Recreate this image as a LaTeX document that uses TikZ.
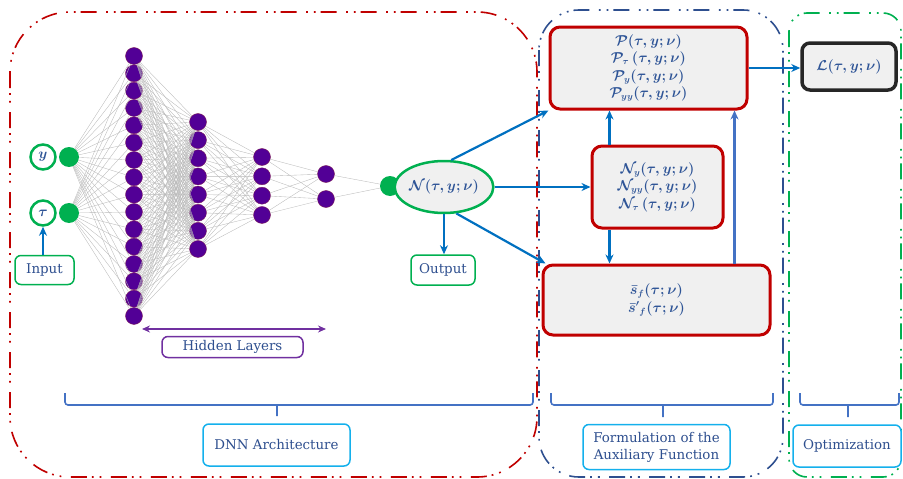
\documentclass[tikz,border=0pt]{standalone}
\usepackage{fontspec}
\setmainfont{DejaVu Serif}
\usepackage{bm}
\usetikzlibrary{arrows.meta,shapes.geometric}

\definecolor{nred}{HTML}{C00000}
\definecolor{ngreen}{HTML}{00B050}
\definecolor{npurple}{HTML}{520096}
\definecolor{nrim}{HTML}{7A1A5A}
\definecolor{tblue}{HTML}{2F5597}
\definecolor{ablue}{HTML}{0070C0}
\definecolor{bblue}{HTML}{4472C4}
\definecolor{dblue}{HTML}{2E4F8F}
\definecolor{lilac}{HTML}{7030A0}
\definecolor{cyanb}{HTML}{14B0EC}
\definecolor{lgray}{HTML}{F0F0F0}
\definecolor{lborder}{HTML}{262626}

\begin{document}
\begin{tikzpicture}[x=1pt,y=-1pt,
	neuron/.style={circle,fill=npurple,draw=nrim,line width=0.4pt,minimum size=17pt,inner sep=0pt},
	gdot/.style={circle,fill=ngreen,minimum size=20pt,inner sep=0pt},
	invar/.style={circle,draw=ngreen,line width=2.5pt,fill=white,minimum size=25pt,inner sep=0pt,text=tblue,
		font=\fontsize{14}{16}\selectfont\boldmath},
	wire/.style={gray!55,line width=0.35pt},
	flow/.style={ablue,line width=2.2pt,-{Stealth[length=9pt,width=8pt]}},
	fbox/.style={draw=nred,line width=3pt,rounded corners=10pt,fill=lgray,align=center,text=tblue,
		font=\fontsize{13.5}{17.5}\selectfont\boldmath},
	tag/.style={draw,line width=1.5pt,rounded corners=6pt,fill=white,align=center,text=dblue,inner sep=0pt,
		font=\fontsize{13.4}{17}\selectfont},
	bound/.style={line width=1.6pt,dash pattern=on 16pt off 5pt on 1.8pt off 6pt on 1.8pt off 9.4pt},
	brace/.style={bblue,line width=1.6pt,rounded corners=3pt},
]
\useasboundingbox (0,0) rectangle (903,479);

% dash-dot frames
\draw[bound,nred,rounded corners=60pt] (10,12) rectangle (537,477);
\draw[bound,dblue,rounded corners=40pt] (539,10) rectangle (783,477);
\draw[bound,ngreen,rounded corners=18pt] (789,13) rectangle (901,477);

% inputs
\node[invar] (iy) at (43,157) {$y$};
\node[invar] (itau) at (43,213) {$\tau$};
\node[gdot] (dy) at (69,157) {};
\node[gdot] (dtau) at (69,213) {};

% hidden layers
\foreach \i in {1,...,16}
	\node[neuron] (a\i) at (134,{56+17.33*(\i-1)}) {};
\foreach \i in {1,...,8}
	\node[neuron] (b\i) at (198,{122+18.14*(\i-1)}) {};
\foreach \i in {1,...,4}
	\node[neuron] (c\i) at (262,{157+19.33*(\i-1)}) {};
\foreach \i in {1,2}
	\node[neuron] (d\i) at (326,{174+25*(\i-1)}) {};
\node[gdot] (dout) at (390,186) {};

\foreach \i in {1,...,16} {
	\draw[wire] (dy) -- (a\i);
	\draw[wire] (dtau) -- (a\i);
	\foreach \j in {1,...,8}
		\draw[wire] (a\i) -- (b\j);
}
\foreach \i in {1,...,8}
	\foreach \j in {1,...,4}
		\draw[wire] (b\i) -- (c\j);
\foreach \i in {1,...,4}
	\foreach \j in {1,2}
		\draw[wire] (c\i) -- (d\j);
\foreach \j in {1,2}
	\draw[wire] (d\j) -- (dout);

\node[ellipse,draw=ngreen,line width=2.5pt,fill=lgray,minimum width=84pt,minimum height=52pt,inner sep=0pt,
	text=tblue,font=\fontsize{13.5}{16}\selectfont\boldmath] (net) at (444,187) {$\mathcal{N}(\tau,y;\nu)$};

% labels
\node[tag,draw=ngreen,minimum width=59pt,minimum height=29pt] (inbox) at (44.5,270) {Input};
\node[tag,draw=ngreen,minimum width=64pt,minimum height=30pt] (outbox) at (443,270) {Output};
\node[tag,draw=lilac,minimum width=141pt,minimum height=21pt] (hidbox) at (232.5,347) {Hidden Layers};
\node[tag,draw=cyanb,minimum width=147pt,minimum height=42pt] (dnnbox) at (276.5,445) {DNN Architecture};
\node[tag,draw=cyanb,minimum width=147pt,minimum height=45pt] (formbox) at (656.5,447) {Formulation of the\\Auxiliary Function};
\node[tag,draw=cyanb,minimum width=108pt,minimum height=42pt] (optbox) at (847,446) {Optimization};

\coordinate (hl) at (142,329);
\coordinate (hr) at (326,329);
\draw[lilac,line width=1.6pt,{Stealth[length=8pt,width=7pt]}-{Stealth[length=8pt,width=7pt]}] (hl) -- (hr);

% auxiliary function blocks
\node[fbox,minimum width=197pt,minimum height=82pt] (pbox) at (648.5,68)
	{$\mathcal{P}(\tau,y;\nu)$\\ $\mathcal{P}_{\tau}\,(\tau,y;\nu)$\\ $\mathcal{P}_{y}(\tau,y;\nu)$\\ $\mathcal{P}_{yy}(\tau,y;\nu)$};
\node[fbox,minimum width=131pt,minimum height=82pt] (nbox) at (657.5,187)
	{$\mathcal{N}_{y}(\tau,y;\nu)$\\ $\mathcal{N}_{yy}(\tau,y;\nu)$\\ $\mathcal{N}_{\tau}\,(\tau,y;\nu)$};
\node[fbox,minimum width=227pt,minimum height=70pt] (sbox) at (656.5,300)
	{$\bar{s}_{f}(\tau;\nu)$\\ $\bar{s}'{}_{f}(\tau;\nu)$};
\node[fbox,draw=lborder,line width=3.5pt,rounded corners=8pt,minimum width=94pt,minimum height=47pt] (lbox) at (849,66.5)
	{$\mathcal{L}(\tau,y;\nu)$};

% arrows
\draw[flow] (inbox.north -| itau.south) -- (itau.south);
\draw[flow] (net.south) -- (net.south |- outbox.north);
\draw[flow] (net.75) -- (pbox.south west);
\draw[flow] (net.east) -- (net.east -| nbox.west);
\draw[flow] (net.-65) -- ([xshift=4pt]sbox.north west);
\draw[flow] ([xshift=19pt]nbox.north west) -- ([xshift=19pt]nbox.north west |- pbox.south);
\draw[flow] ([xshift=19pt]nbox.south west) -- ([xshift=19pt]nbox.south west |- sbox.north);
\draw[flow,bblue] ([xshift=-37pt]sbox.north east) -- ([xshift=-37pt]sbox.north east |- pbox.south);
\draw[flow] (pbox.east) -- (pbox.east -| lbox.west);

% braces
\draw[brace] (65,393) -- (65,405) -- (274,405) .. controls (277,405) .. (277,418) .. controls (277,405) .. (280,405) -- (533,405) -- (533,393);
\draw[brace] (551,393) -- (551,405) -- (660,405) .. controls (663,405) .. (663,419) .. controls (663,405) .. (666,405) -- (773,405) -- (773,393);
\draw[brace] (800,393) -- (800,405) -- (845,405) .. controls (848,405) .. (848,419) .. controls (848,405) .. (851,405) -- (899,405) -- (899,393);
\end{tikzpicture}
\end{document}
